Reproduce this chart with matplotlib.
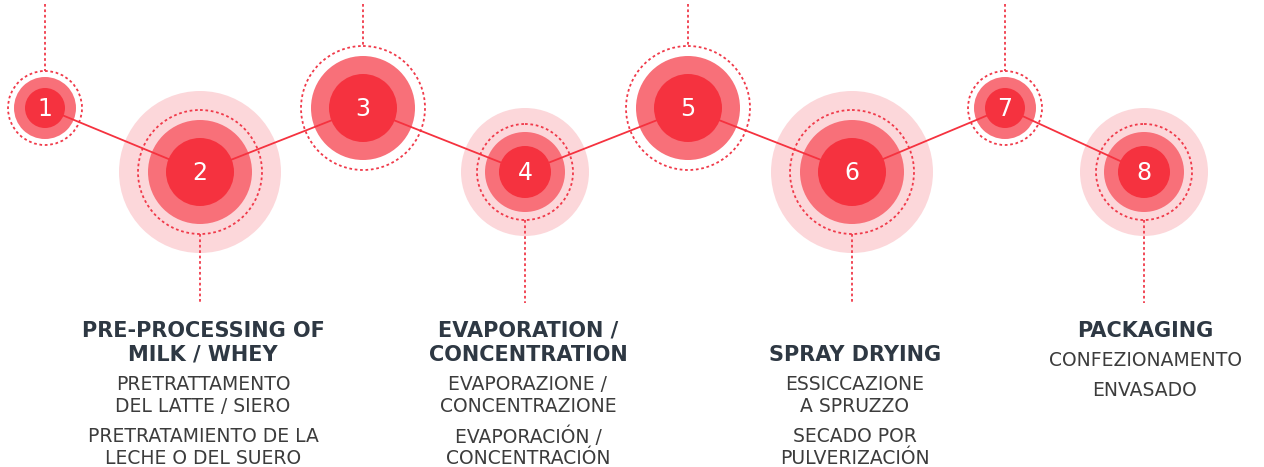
import matplotlib
matplotlib.use("Agg")
import matplotlib.pyplot as plt
from matplotlib.patches import Circle

# steps of the process
steps = [1, 2, 3, 4, 5, 6, 7, 8]
step_x = [45, 200, 363, 525, 688, 852, 1005, 1144]
level = ['up', 'down', 'up', 'down', 'up', 'down', 'up', 'down']
size = ['s', 'l', 'l', 'm', 'l', 'l', 's', 'm']

titles = [["PRE-PROCESSING OF", "MILK / WHEY"],
          ["EVAPORATION /", "CONCENTRATION"],
          ["SPRAY DRYING"],
          ["PACKAGING"]]
italian = [["PRETRATTAMENTO", "DEL LATTE / SIERO"],
           ["EVAPORAZIONE /", "CONCENTRAZIONE"],
           ["ESSICCAZIONE", "A SPRUZZO"],
           ["CONFEZIONAMENTO"]]
spanish = [["PRETRATAMIENTO DE LA", "LECHE O DEL SUERO"],
           ["EVAPORACIÓN /", "CONCENTRACIÓN"],
           ["SECADO POR", "PULVERIZACIÓN"],
           ["ENVASADO"]]
label_x = [203, 528, 855, 1145]

# radii: inner, middle, dashed ring, light halo
radii = {'s': (20, 31, 37, None),
         'm': (26, 40, 48, 64),
         'l': (34, 52, 62, 81)}
y_of = {'up': 108, 'down': 172}

red = '#f5323f'
mid = '#f87079'
light = '#fcd7da'
dash = '#f03a4a'
title_c = '#2e3843'
sub_c = '#3c3c3c'

fig = plt.figure(figsize=(12.64, 4.67), dpi=100)
ax = fig.add_axes([0, 0, 1, 1])
ax.set_xlim(0, 1264)
ax.set_ylim(467, 0)
ax.set_aspect('equal')
ax.axis('off')

ys = [y_of[l] for l in level]

# connecting line
ax.plot(step_x, ys, color=red, lw=1.3, zorder=4)

for n, x, lv, sz in zip(steps, step_x, level, size):
    y = y_of[lv]
    r_in, r_mid, r_dash, r_halo = radii[sz]
    if lv == 'down' and r_halo:
        ax.add_patch(Circle((x, y), r_halo, color=light, lw=0, zorder=1))
    ax.add_patch(Circle((x, y), r_mid, color=mid, lw=0, zorder=2))
    ax.add_patch(Circle((x, y), r_dash, fill=False, ec=dash, lw=1.3,
                        ls=(0, (1.5, 1.5)), zorder=3))
    ax.add_patch(Circle((x, y), r_in, color=red, lw=0, zorder=5))
    ax.text(x, y + 1, str(n), color='white', fontsize=17, ha='center',
            va='center', zorder=6)
    if lv == 'up':
        ax.plot([x, x], [4, y - r_dash], color=dash, lw=1.3,
                ls=(0, (1.5, 1.5)), zorder=3)
    else:
        ax.plot([x, x], [y + r_dash, 303], color=dash, lw=1.3,
                ls=(0, (1.5, 1.5)), zorder=3)

for i, cx in enumerate(label_x):
    lines_t = titles[i]
    if len(lines_t) == 1 and i == 2:
        ty = [355]
    elif len(lines_t) == 1:
        ty = [331]
    else:
        ty = [331, 355]
    for t, yy in zip(lines_t, ty):
        ax.text(cx, yy, t, color=title_c, fontsize=15, fontweight='bold',
                ha='center', va='center', family='DejaVu Sans')
    if i < 3:
        sub_y = [384, 407, 437, 459]
    else:
        sub_y = [361, 390]
    subs = italian[i] + spanish[i]
    for t, yy in zip(subs, sub_y):
        ax.text(cx, yy, t, color=sub_c, fontsize=13.5, ha='center',
                va='center', family='DejaVu Sans')

fig.savefig('out.png', dpi=100)
